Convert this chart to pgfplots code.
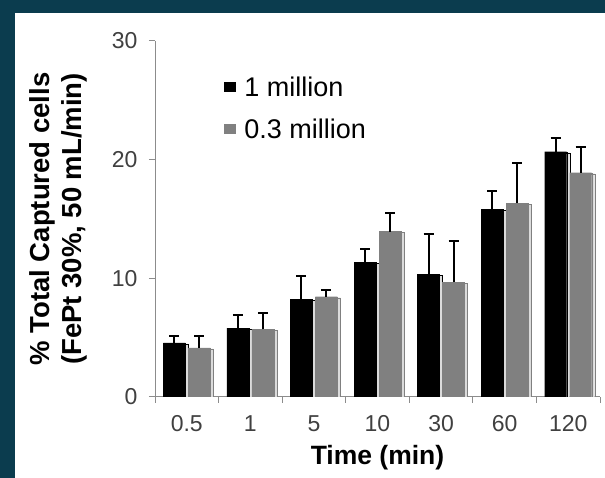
\documentclass[border=0pt]{standalone}
\usepackage{pgfplots}
\pgfplotsset{compat=1.18}
\usetikzlibrary{shadows}
\usepackage{fontspec}
\setmainfont{Liberation Sans}
\definecolor{framec}{HTML}{0B3C4E}
\definecolor{barg}{HTML}{808080}
\definecolor{axg}{HTML}{8C8C8C}
\definecolor{lbl}{HTML}{404040}

\pgfplotsset{
  ybar legend/.style={legend image code/.code={
      \fill[##1] (0pt,-4.5pt) rectangle (11pt,4.5pt);}},
  barshadow/.style={/tikz/drop shadow={shadow xshift=3pt, shadow yshift=-1pt,
      fill=black!14, opacity=1}},
}

\begin{document}
\begin{tikzpicture}
\fill[framec] (0pt,0pt) rectangle (605pt,478pt);
\fill[white] (15pt,0pt) rectangle (605pt,465pt);
\begin{axis}[
    at={(155pt,81pt)}, anchor=south west,
    scale only axis, width=445pt, height=356pt,
    xmin=-0.5, xmax=6.5, ymin=0, ymax=30,
    ybar, bar width=22pt,
    axis x line=bottom, axis y line=left,
    axis line style={-, axg, line width=1pt},
    xtick={0,...,6}, xticklabels={0.5,1,5,10,30,60,120},
    major x tick style={draw=none},
    minor xtick={-0.5,0.5,...,6.5},
    ytick={0,10,20,30},
    tick align=outside, tick style={axg, line width=1pt},
    major tick length=6pt, minor tick length=6pt,
    ticklabel style={font=\fontsize{23}{27}\selectfont, text=lbl},
    yticklabel style={xshift=-8pt},
    xticklabel style={yshift=-9pt},
    /pgf/number format/assume math mode=true,
    xlabel={Time (min)},
    xlabel style={font=\bfseries\fontsize{26.5}{32}\selectfont,
      at={(axis description cs:0.5,-0.171)}, anchor=center},
    ylabel={\% Total Captured cells\\(FePt 30\%, 50 mL/min)},
    ylabel style={align=center, font=\bfseries\fontsize{27.5}{32}\selectfont,
      at={(axis description cs:-0.218,0.5)}, anchor=center},
    legend cell align=left,
    legend style={at={(axis description cs:0.148,0.912)}, anchor=north west,
      draw=none, fill=none, font=\fontsize{27}{32}\selectfont, row sep=17pt},
    error bars/y dir=plus, error bars/y explicit,
    error bars/error bar style={line width=2pt, black},
    error bars/error mark options={black, rotate=90, mark size=5pt, line width=2pt},
  ]
  % 1 million
  \addplot[fill=black, draw=black, bar shift=-12.5pt, barshadow, forget plot] coordinates {
    (0,4.57) +- (0,0.59)
    (1,5.81) +- (0,1.10)
    (2,8.23) +- (0,1.96)
    (3,11.35) +- (0,1.09)
    (4,10.34) +- (0,3.37)
    (5,15.81) +- (0,1.57)
    (6,20.67) +- (0,1.12)};
  % 0.3 million
  \addplot[fill=barg, draw=barg, bar shift=12.5pt, barshadow, forget plot] coordinates {
    (0,4.13) +- (0,1.03)
    (1,5.70) +- (0,1.38)
    (2,8.45) +- (0,0.56)
    (3,13.93) +- (0,1.57)
    (4,9.69) +- (0,3.43)
    (5,16.32) +- (0,3.42)
    (6,18.90) +- (0,2.19)};
  \addlegendimage{ybar legend, fill=black, draw=black}
  \addlegendentry{\hspace{7pt}1 million}
  \addlegendimage{ybar legend, fill=barg, draw=barg}
  \addlegendentry{\hspace{7pt}0.3 million}
\end{axis}
\end{tikzpicture}
\end{document}
